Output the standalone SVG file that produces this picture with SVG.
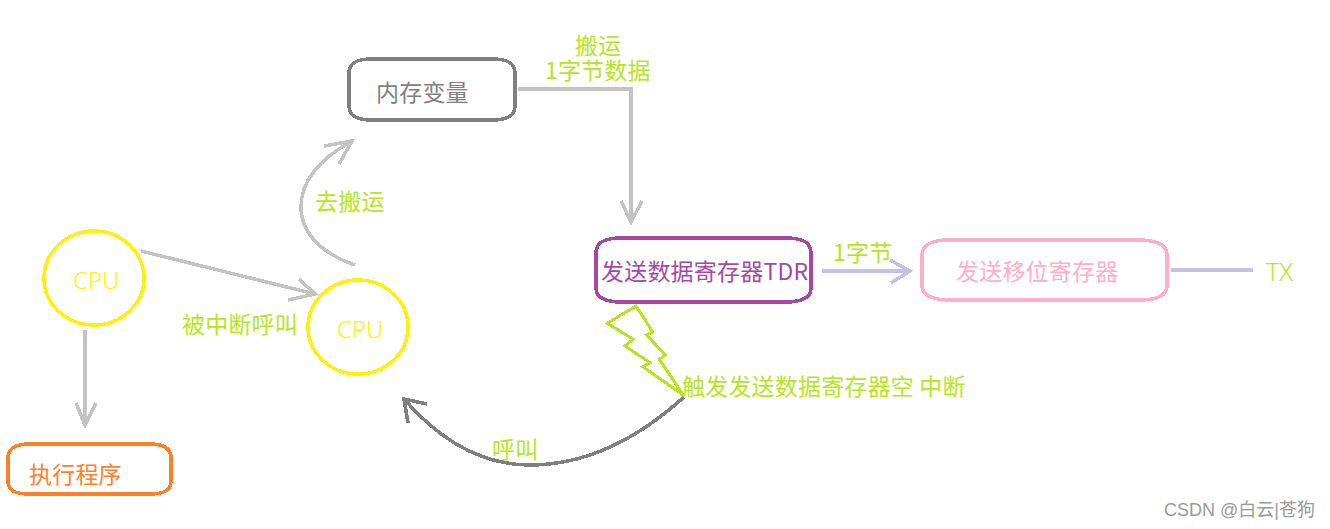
<svg xmlns="http://www.w3.org/2000/svg" width="1330" height="529" viewBox="0 0 1330 529">
<style>
text{font-family:"Noto Sans CJK SC","Noto Sans",sans-serif;font-size:23px;font-weight:400;letter-spacing:.2px}
.lime{fill:#b5e61d}
.box,.line,.cpu{fill:none;stroke-width:3.500;shape-rendering:crispEdges}
.box{stroke-linejoin:round}
.g{stroke:#c3c3c3}
.d{stroke:#7f7f7f}
.l{stroke:#c8bfe7}
.cpu{stroke:#fff200}
.cput{fill:#fff200;font-family:"Noto Sans",sans-serif;font-size:24px;font-weight:300;letter-spacing:0}
</style>
<rect width="1330" height="529" fill="#fff"/>
<g id="connectors">
<path class="line g" d="M518 89H631V222M621 201L631 222L642 201"/>
<path class="line g" d="M355 265C320 253 301 232 301 207C301 178 325 156 352 141M324 146L352 141L339 164"/>
<path class="line g" d="M141 251L315 294M299 279L315 294L288 300"/>
<path class="line g" d="M85 330V425M76 403L85 425L96 403"/>
<path class="line l" d="M822 271H910M890 260L910 271L891 283"/>
<path class="line l" d="M1171 270H1253"/>
<path class="line d" d="M684 397C632 444 579 465 530 465C478 465 437 437 404 399M427 404L404 399L408 423"/>
</g>
<g id="cpu-1"><ellipse class="cpu" cx="94" cy="278" rx="50" ry="47"/><text class="cput" x="73" y="289">CPU</text></g>
<g id="cpu-2"><ellipse class="cpu" cx="358" cy="327" rx="50" ry="47"/><text class="cput" x="337" y="338">CPU</text></g>
<g id="program"><path class="box" stroke="#ff7f27" d="M30 444H150C165 444 171 449 171 458V481C171 490 165 494 150 494H30C14 494 8 490 8 481V458C8 449 14 444 30 444Z"/><text x="29" y="483" fill="#ff7f27">执行程序</text></g>
<g id="memory"><path class="box" stroke="#7f7f7f" d="M372 59H492C509 59 515 64 515 73V106C515 115 509 120 492 120H372C355 120 349 115 349 106V73C349 64 355 59 372 59Z"/><text x="376" y="101" fill="#7f7f7f">内存变量</text></g>
<g id="tdr"><path class="box" stroke="#a349a4" d="M622 238H785C804 238 811 243 811 253V288C811 297 804 302 785 302H622C603 302 596 297 596 288V253C596 243 603 238 622 238Z"/><text x="601" y="280" fill="#a349a4">发送数据寄存器TDR</text></g>
<g id="shift"><path class="box" stroke="#ffaec9" d="M948 240H1138C1158 240 1167 245 1167 255V286C1167 295 1158 300 1138 300H952C932 300 922 295 922 286V255C922 245 932 240 948 240Z"/><text x="956" y="280" fill="#ffaec9">发送移位寄存器</text></g>
<g id="lightning"><path fill="none" stroke="#b5e61d" stroke-width="3" shape-rendering="crispEdges" d="M636 306L607.300 323.300L633.300 339.300L625 346L650 362.700L642.700 366.700L683.300 395L659.300 359.300L665 355L646.700 335L652.700 331.700Z"/></g>
<g id="labels">
<text class="lime"><tspan x="575" y="54">搬运</tspan><tspan x="545" y="79">1字节数据</tspan></text>
<text class="lime" x="315" y="210">去搬运</text>
<text class="lime" x="182" y="333">被中断呼叫</text>
<text class="lime" x="833" y="261">1字节</text>
<text class="lime" x="1266" y="281" style="font-family:'Noto Sans',sans-serif;font-size:25px;font-weight:300;letter-spacing:0">TX</text>
<text class="lime" x="682" y="395">触发发送数据寄存器空 中断</text>
<text class="lime" x="492" y="458">呼叫</text>
<text x="1164" y="516" fill="#9a9a9a" style="font-family:'Liberation Sans','Noto Sans CJK SC',sans-serif;font-size:18px;font-weight:400;letter-spacing:0">CSDN @白云|苍狗</text>
</g>
</svg>
